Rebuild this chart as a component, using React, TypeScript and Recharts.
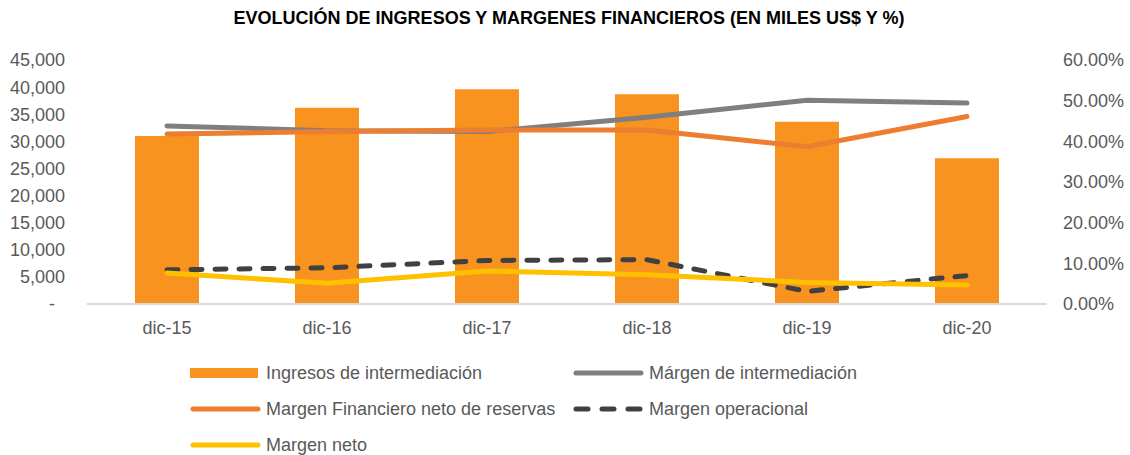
import { Bar, ComposedChart, Line, XAxis, YAxis } from "recharts"

const periodos = ["dic-15", "dic-16", "dic-17", "dic-18", "dic-19", "dic-20"]
const ingresosIntermediacion = [31000, 36200, 39600, 38700, 33600, 26900]
const margenIntermediacion = [43.8, 42.6, 42.4, 45.9, 50.1, 49.4]
const margenFinanciero = [41.8, 42.4, 42.8, 42.8, 38.7, 46.1]
const margenOperacional = [8.4, 8.9, 10.7, 10.9, 3.1, 7.0]
const margenNeto = [7.6, 5.1, 8.1, 7.2, 5.3, 4.7]

const ticksMiles = [0, 5000, 10000, 15000, 20000, 25000, 30000, 35000, 40000, 45000]
const ticksPct = [0, 10, 20, 30, 40, 50, 60]

const data = periodos.map((periodo, i) => ({
  periodo,
  ingresos: ingresosIntermediacion[i],
  mInter: margenIntermediacion[i],
  mFin: margenFinanciero[i],
  mOper: margenOperacional[i],
  mNeto: margenNeto[i],
}))

const FONT = '"Liberation Sans", Arial, sans-serif'
const GRIS_TEXTO = "#595959"

const C_BAR = "#F7931E"
const C_INTER = "#7F7F7F"
const C_FIN = "#ED7D31"
const C_OPER = "#404040"
const C_NETO = "#FFC000"

const fmtMiles = (v: number) => (v === 0 ? "-\u00A0\u00A0" : v.toLocaleString("en-US"))
const fmtPct = (v: number) => `${v.toFixed(2)}%`

type ItemLeyenda = { label: string; tipo: "bar" | "line" | "dash"; color: string; x: number; y: number }

const leyenda: ItemLeyenda[] = [
  { label: "Ingresos de intermediación", tipo: "bar", color: C_BAR, x: 190, y: 373 },
  { label: "Márgen de intermediación", tipo: "line", color: C_INTER, x: 573, y: 373 },
  { label: "Margen Financiero neto de reservas", tipo: "line", color: C_FIN, x: 190, y: 409 },
  { label: "Margen operacional", tipo: "dash", color: C_OPER, x: 573, y: 409 },
  { label: "Margen neto", tipo: "line", color: C_NETO, x: 190, y: 445 },
]

function Muestra({ tipo, color }: { tipo: ItemLeyenda["tipo"]; color: string }) {
  return (
    <svg width={72} height={14} style={{ display: "block" }}>
      {tipo === "bar" && <rect x={0} y={2} width={68} height={10} fill={color} />}
      {tipo === "line" && (
        <line x1={3} y1={7} x2={68} y2={7} stroke={color} strokeWidth={5} strokeLinecap="round" />
      )}
      {tipo === "dash" && (
        <line
          x1={3}
          y1={7}
          x2={68}
          y2={7}
          stroke={color}
          strokeWidth={5}
          strokeLinecap="round"
          strokeDasharray="12 14"
        />
      )}
    </svg>
  )
}

export default function App() {
  return (
    <div style={{ position: "absolute", left: 0, top: 0, width: 1130, height: 455, background: "#fff", fontFamily: FONT }}>
      <div
        style={{
          position: "absolute",
          top: 8,
          left: 0,
          width: 1130,
          textAlign: "center",
          fontWeight: "bold",
          fontSize: 18,
          lineHeight: "20px",
          color: "#000",
          paddingLeft: 4,
        }}
      >
        EVOLUCIÓN DE INGRESOS Y MARGENES FINANCIEROS (EN MILES US$ Y %)
      </div>

      <ComposedChart width={1130} height={455} data={data} margin={{ top: 60, right: 0, bottom: 111, left: 0 }}>
        <XAxis
          dataKey="periodo"
          height={40}
          tickLine={false}
          tickSize={0}
          tickMargin={17}
          axisLine={{ stroke: "#D9D9D9", strokeWidth: 2 }}
          tick={{ fill: GRIS_TEXTO, fontSize: 18, fontFamily: FONT }}
        />
        <YAxis
          yAxisId="miles"
          width={87}
          domain={[0, 45000]}
          ticks={ticksMiles}
          tickFormatter={fmtMiles}
          axisLine={false}
          tickLine={false}
          tickSize={0}
          tickMargin={22}
          interval={0}
          tick={{ fill: GRIS_TEXTO, fontSize: 18, fontFamily: FONT }}
        />
        <YAxis
          yAxisId="pct"
          orientation="right"
          width={83}
          domain={[0, 60]}
          ticks={ticksPct}
          tickFormatter={fmtPct}
          axisLine={false}
          tickLine={false}
          tickSize={0}
          tickMargin={16}
          interval={0}
          tick={{ fill: GRIS_TEXTO, fontSize: 18, fontFamily: FONT, textAnchor: "start" }}
        />
        <Bar yAxisId="miles" dataKey="ingresos" fill={C_BAR} barSize={64} isAnimationActive={false} />
        <Line
          yAxisId="pct"
          dataKey="mInter"
          stroke={C_INTER}
          strokeWidth={5}
          strokeLinecap="round"
          dot={false}
          activeDot={false}
          isAnimationActive={false}
        />
        <Line
          yAxisId="pct"
          dataKey="mFin"
          stroke={C_FIN}
          strokeWidth={5}
          strokeLinecap="round"
          dot={false}
          activeDot={false}
          isAnimationActive={false}
        />
        <Line
          yAxisId="pct"
          dataKey="mOper"
          stroke={C_OPER}
          strokeWidth={5}
          strokeLinecap="round"
          strokeDasharray="11 13"
          dot={false}
          activeDot={false}
          isAnimationActive={false}
        />
        <Line
          yAxisId="pct"
          dataKey="mNeto"
          stroke={C_NETO}
          strokeWidth={5}
          strokeLinecap="round"
          dot={false}
          activeDot={false}
          isAnimationActive={false}
        />
      </ComposedChart>

      {leyenda.map((it) => (
        <div
          key={it.label}
          style={{
            position: "absolute",
            left: it.x,
            top: it.y - 11,
            height: 22,
            display: "flex",
            alignItems: "center",
            gap: 4,
            fontSize: 18,
            color: GRIS_TEXTO,
            whiteSpace: "nowrap",
          }}
        >
          <Muestra tipo={it.tipo} color={it.color} />
          <span>{it.label}</span>
        </div>
      ))}
    </div>
  )
}
